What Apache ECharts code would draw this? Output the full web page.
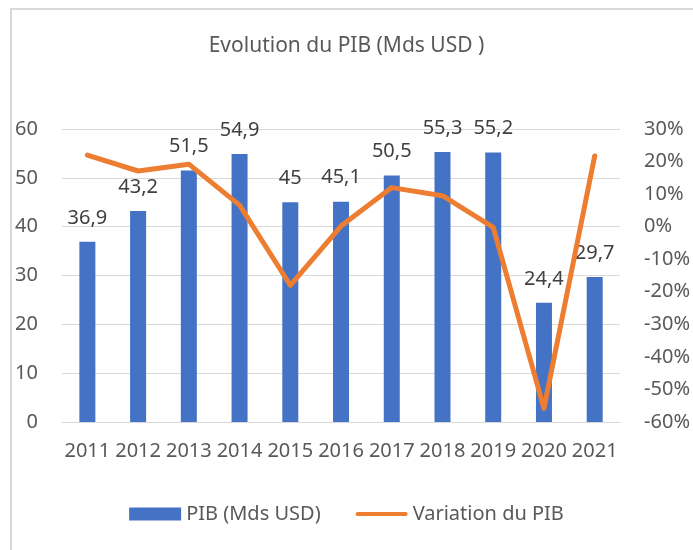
<!DOCTYPE html>
<html>
<head>
<meta charset="utf-8">
<script src="https://cdn.jsdelivr.net/npm/echarts@6/dist/echarts.min.js"></script>
<style>
  html, body { margin:0; padding:0; background:#fff; }
  #frame { position:absolute; left:10px; top:8px; width:700px; height:560px;
           border-left:2px solid #d9d9d9; border-top:2px solid #d9d9d9; }
  #chart { position:absolute; left:0; top:0; width:693px; height:550px; }
</style>
</head>
<body>
<div id="frame"></div>
<div id="chart"></div>
<script>
const years = ['2011','2012','2013','2014','2015','2016','2017','2018','2019','2020','2021'];
const pib = [36.9, 43.2, 51.5, 54.9, 45, 45.1, 50.5, 55.3, 55.2, 24.4, 29.7];
// variation in percent
const variation = [22, 17.1, 19.2, 6.6, -18, 0.2, 12, 9.5, -0.2, -55.8, 21.7];

const txt = '#595959';
const font = 'Noto Sans';

const chart = echarts.init(document.getElementById('chart'), null, { renderer: 'canvas' });

chart.setOption({
  backgroundColor: 'transparent',
  animation: false,
  textStyle: { fontFamily: font },
  title: {
    text: 'Evolution du PIB (Mds USD )',
    left: 'center', top: 31,
    textStyle: { fontFamily: font, fontSize: 21, fontWeight: 'normal', color: txt }
  },
  legend: {
    left: 'center', top: 499,
    itemGap: 35, itemWidth: 52, itemHeight: 13,
    textStyle: { fontFamily: font, fontSize: 20, color: txt },
    data: [
      { name: 'PIB (Mds USD)', icon: 'rect' },
      { name: 'Variation du PIB', icon: 'path://M2,0 H53 A2,2 0 0 1 53,4 H2 A2,2 0 0 1 2,0 Z' }
    ]
  },
  grid: { left: 62, right: 70, top: 129, bottom: 128 },
  xAxis: {
    type: 'category', data: years,
    axisLine: { lineStyle: { color: '#d9d9d9', width: 1 } },
    axisTick: { show: false },
    axisLabel: { color: txt, fontSize: 20, margin: 19, fontFamily: font, interval: 0 }
  },
  yAxis: [
    {
      type: 'value', min: 0, max: 60, interval: 10,
      axisLine: { show: false }, axisTick: { show: false },
      splitLine: { lineStyle: { color: '#d9d9d9', width: 1 } },
      axisLabel: { color: txt, fontSize: 20, margin: 24, fontFamily: font }
    },
    {
      type: 'value', min: -60, max: 30, interval: 10, position: 'right',
      axisLine: { show: false }, axisTick: { show: false },
      splitLine: { show: false },
      axisLabel: { color: txt, fontSize: 20, margin: 24, fontFamily: font, formatter: '{value}%' }
    }
  ],
  series: [
    {
      name: 'PIB (Mds USD)', type: 'bar', data: pib, yAxisIndex: 0,
      barWidth: 16,
      itemStyle: { color: '#4472C4' },
      label: {
        show: true, position: 'top', distance: 14,
        color: '#404040', fontSize: 20, fontFamily: font,
        formatter: p => String(p.value).replace('.', ',')
      }
    },
    {
      name: 'Variation du PIB', type: 'line', data: variation, yAxisIndex: 1,
      symbol: 'none', showSymbol: false, z: 3,
      lineStyle: { color: '#ED7D31', width: 5, cap: 'round', join: 'round' },
      itemStyle: { color: '#ED7D31' }
    }
  ]
});
</script>
</body>
</html>
